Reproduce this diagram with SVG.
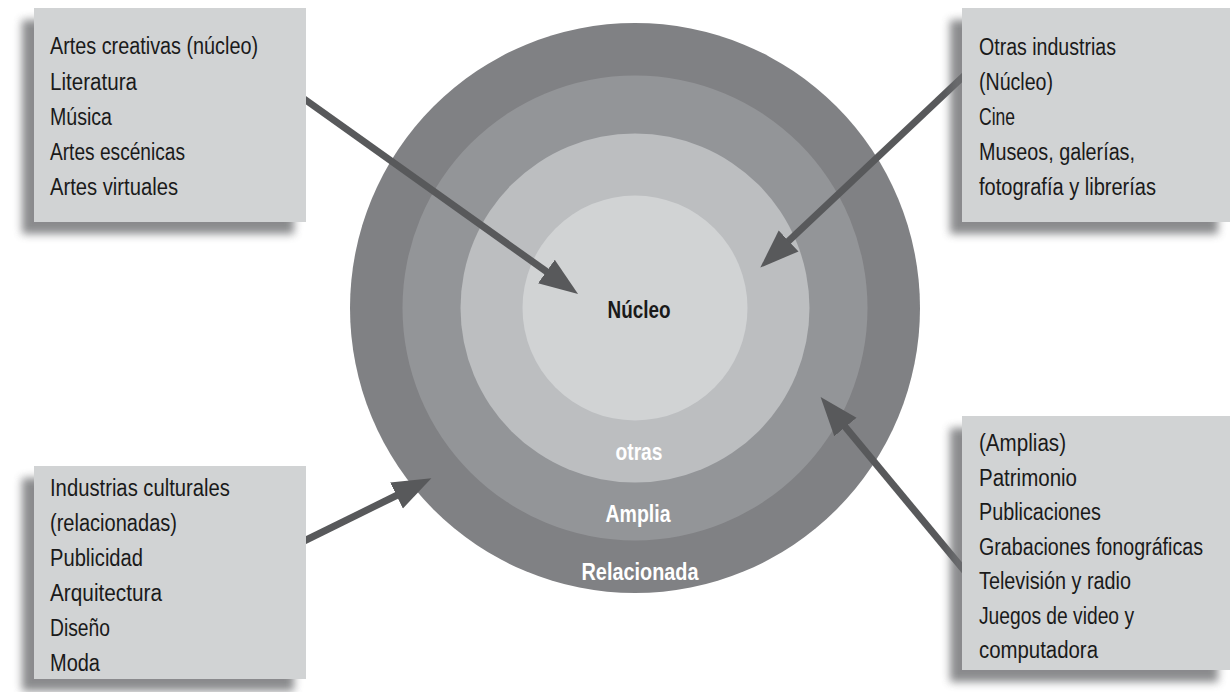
<svg xmlns="http://www.w3.org/2000/svg" width="1230" height="692" viewBox="0 0 1230 692">
<defs>
<style>
.box{fill:#d1d3d4}
.shadow{fill:#6d6e71;opacity:0.8;filter:url(#blur)}
.t{font-family:"Liberation Sans",Arial,sans-serif;font-size:23px;fill:#1a1a1a}
.lbl{font-family:"Liberation Sans",Arial,sans-serif;font-size:24px;font-weight:bold;text-anchor:middle}
.w{fill:#ffffff}
.conn{stroke:#58595b;stroke-width:7;fill:none;marker-end:url(#ah)}
</style>
<filter id="blur" x="-20%" y="-20%" width="140%" height="140%"><feGaussianBlur stdDeviation="4"/></filter>
<marker id="ah" markerUnits="userSpaceOnUse" markerWidth="40" markerHeight="30" refX="1" refY="13" orient="auto" viewBox="0 0 36 26">
<path d="M0,0 L35,13 L0,26 Z" fill="#58595b"/>
</marker>
</defs>
<rect width="1230" height="692" fill="#ffffff"/>
<g id="rings">
<circle cx="635" cy="308" r="285" fill="#808184"/>
<circle cx="635" cy="308" r="232.5" fill="#939598"/>
<circle cx="635" cy="308" r="174.5" fill="#bcbec0"/>
<circle cx="635" cy="308" r="112.5" fill="#d1d3d4"/>
<text class="lbl" x="639" y="318" textLength="63" lengthAdjust="spacingAndGlyphs" fill="#1a1a1a">Núcleo</text>
<text class="lbl w" x="639" y="460" textLength="47" lengthAdjust="spacingAndGlyphs">otras</text>
<text class="lbl w" x="638" y="522" textLength="65" lengthAdjust="spacingAndGlyphs">Amplia</text>
<text class="lbl w" x="640" y="580" textLength="117" lengthAdjust="spacingAndGlyphs">Relacionada</text>
</g>
<g id="connectors">
<line class="conn" x1="300" y1="96" x2="547.3" y2="272.2"/>
<line class="conn" x1="968" y1="72" x2="787.8" y2="241.7"/>
<line class="conn" x1="300" y1="543" x2="397.5" y2="495"/>
<line class="conn" x1="968" y1="575" x2="844.7" y2="426.2"/>
</g>
<g id="box-artes">
<rect class="shadow" x="22" y="20" width="272" height="214"/>
<rect class="box" x="34" y="8" width="272" height="214"/>
<text class="t" x="50" y="54" textLength="208" lengthAdjust="spacingAndGlyphs">Artes creativas (núcleo)</text>
<text class="t" x="50" y="90" textLength="87" lengthAdjust="spacingAndGlyphs">Literatura</text>
<text class="t" x="50" y="125" textLength="62" lengthAdjust="spacingAndGlyphs">Música</text>
<text class="t" x="50" y="160" textLength="135" lengthAdjust="spacingAndGlyphs">Artes escénicas</text>
<text class="t" x="50" y="195" textLength="128" lengthAdjust="spacingAndGlyphs">Artes virtuales</text>
</g>
<g id="box-otras">
<rect class="shadow" x="950" y="20" width="268" height="214"/>
<rect class="box" x="962" y="8" width="268" height="214"/>
<text class="t" x="979" y="55" textLength="137" lengthAdjust="spacingAndGlyphs">Otras industrias</text>
<text class="t" x="979" y="90" textLength="74" lengthAdjust="spacingAndGlyphs">(Núcleo)</text>
<text class="t" x="979" y="125" textLength="36" lengthAdjust="spacingAndGlyphs">Cine</text>
<text class="t" x="979" y="160" textLength="156" lengthAdjust="spacingAndGlyphs">Museos, galerías,</text>
<text class="t" x="979" y="195" textLength="177" lengthAdjust="spacingAndGlyphs">fotografía y librerías</text>
</g>
<g id="box-industrias">
<rect class="shadow" x="22" y="478" width="272" height="213"/>
<rect class="box" x="34" y="466" width="272" height="213"/>
<text class="t" x="50" y="496" textLength="180" lengthAdjust="spacingAndGlyphs">Industrias culturales</text>
<text class="t" x="50" y="531" textLength="127" lengthAdjust="spacingAndGlyphs">(relacionadas)</text>
<text class="t" x="50" y="566" textLength="93" lengthAdjust="spacingAndGlyphs">Publicidad</text>
<text class="t" x="50" y="601" textLength="112" lengthAdjust="spacingAndGlyphs">Arquitectura</text>
<text class="t" x="50" y="636" textLength="60" lengthAdjust="spacingAndGlyphs">Diseño</text>
<text class="t" x="50" y="671" textLength="50" lengthAdjust="spacingAndGlyphs">Moda</text>
</g>
<g id="box-amplias">
<rect class="shadow" x="950" y="428" width="268" height="254"/>
<rect class="box" x="962" y="416" width="268" height="254"/>
<text class="t" x="979" y="451" textLength="87" lengthAdjust="spacingAndGlyphs">(Amplias)</text>
<text class="t" x="979" y="485.5" textLength="98" lengthAdjust="spacingAndGlyphs">Patrimonio</text>
<text class="t" x="979" y="520" textLength="122" lengthAdjust="spacingAndGlyphs">Publicaciones</text>
<text class="t" x="979" y="554.5" textLength="224" lengthAdjust="spacingAndGlyphs">Grabaciones fonográficas</text>
<text class="t" x="979" y="589" textLength="152" lengthAdjust="spacingAndGlyphs">Televisión y radio</text>
<text class="t" x="979" y="623.5" textLength="155" lengthAdjust="spacingAndGlyphs">Juegos de video y</text>
<text class="t" x="979" y="658" textLength="119" lengthAdjust="spacingAndGlyphs">computadora</text>
</g>
</svg>
